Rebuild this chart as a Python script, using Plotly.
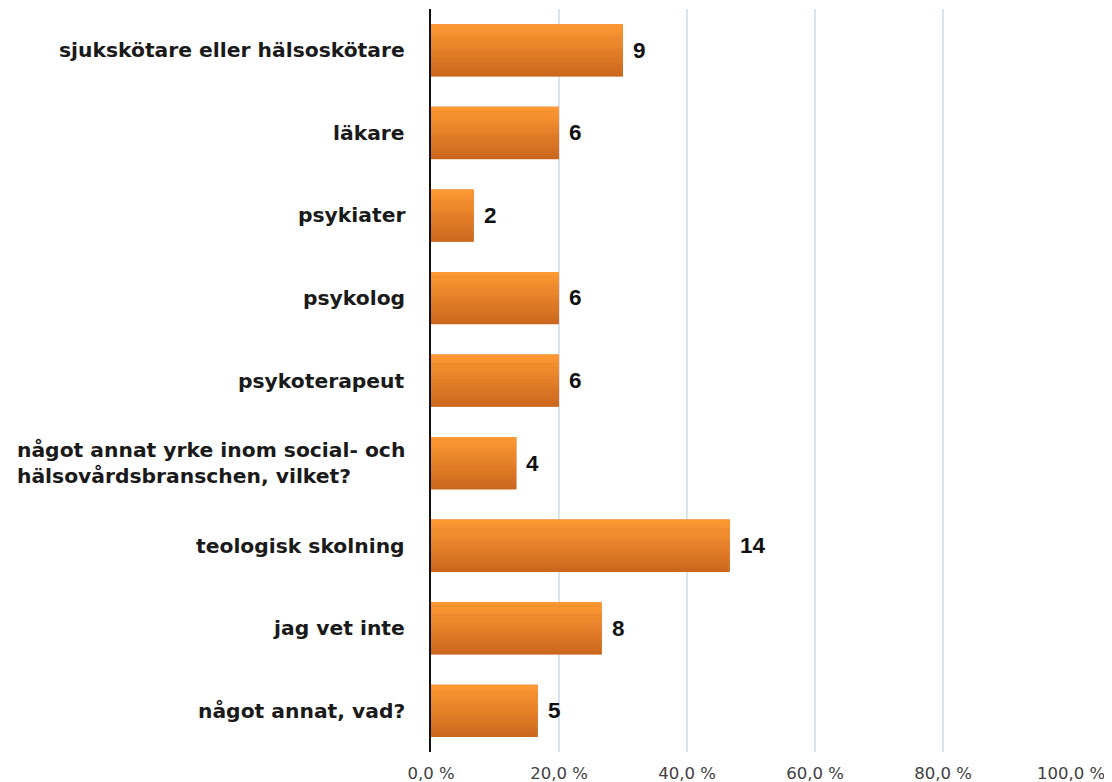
import plotly.graph_objects as go

categories = [
    "sjukskötare eller hälsoskötare",
    "läkare",
    "psykiater",
    "psykolog",
    "psykoterapeut",
    "något annat yrke inom social- och<br>hälsovårdsbranschen, vilket?",
    "teologisk skolning",
    "jag vet inte",
    "något annat, vad?",
]
counts = [9, 6, 2, 6, 6, 4, 14, 8, 5]
total_respondents = 30
tick_values = [0, 20, 40, 60, 80, 100]
tick_labels = ["0,0 %", "20,0 %", "40,0 %", "60,0 %", "80,0 %", "100,0 %"]

percent = [c / total_respondents * 100 for c in counts]

top_rgb = (254, 153, 51)
bot_rgb = (204, 104, 30)
bar_w = 0.63
n_slices = 24

fig = go.Figure()

# base bar (darkest colour)
fig.add_trace(go.Bar(
    x=percent, y=categories, orientation="h", width=bar_w,
    marker=dict(color="rgb(%d,%d,%d)" % bot_rgb, line=dict(width=0)),
    hoverinfo="skip", showlegend=False,
))

# vertical gradient slices
for i in range(n_slices):
    t = i / (n_slices - 1)
    col = tuple(round(top_rgb[k] + (bot_rgb[k] - top_rgb[k]) * t) for k in range(3))
    w = bar_w / n_slices
    fig.add_trace(go.Bar(
        x=percent, y=categories, orientation="h",
        width=w * 1.15, offset=-bar_w / 2 + i * w,
        marker=dict(color="rgb(%d,%d,%d)" % col, line=dict(width=0)),
        hoverinfo="skip", showlegend=False,
    ))

# category labels (left-aligned lines, right-aligned block)
for cat in categories:
    fig.add_annotation(
        x=0, xref="paper", y=cat, yref="y", text="<b>%s</b>" % cat,
        showarrow=False, xanchor="right", align="left", xshift=-24,
        font=dict(family="DejaVu Sans, sans-serif", size=20.3, color="#1a1a1a"),
    )

# value labels
for cat, p, c in zip(categories, percent, counts):
    fig.add_annotation(
        x=p, xref="x", y=cat, yref="y", text="<b>%d</b>" % c,
        showarrow=False, xanchor="left", xshift=8,
        font=dict(family="Liberation Sans, Arial, sans-serif", size=22.5, color="#111111"),
    )

fig.update_layout(
    width=1112, height=782,
    margin=dict(l=423, r=49, t=1, b=38),
    barmode="overlay",
    plot_bgcolor="white", paper_bgcolor="white",
    xaxis=dict(
        range=[0, 100], tickvals=tick_values, ticktext=tick_labels,
        showgrid=True, gridcolor="#D9E3F1", gridwidth=1.6,
        zeroline=False, showline=False, ticks="",
        tickfont=dict(family="DejaVu Sans, sans-serif", size=16.5, color="#404040"),
        ticklabelstandoff=9,
    ),
    yaxis=dict(
        autorange="reversed", showticklabels=False, ticks="",
        showline=True, linecolor="#111111", linewidth=1.5,
        showgrid=False, zeroline=False,
    ),
)

fig.write_html("out.html")
